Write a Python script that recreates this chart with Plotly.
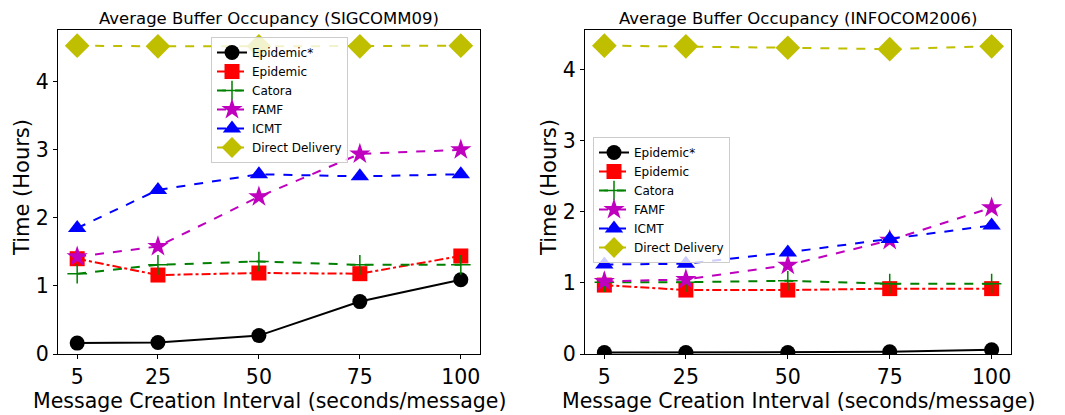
import plotly.graph_objects as go

x_vals = [5, 25, 50, 75, 100]
x_ticks = [5, 25, 50, 75, 100]
y_ticks = [0, 1, 2, 3, 4]

series_names = ["Epidemic*", "Epidemic", "Catora", "FAMF", "ICMT", "Direct Delivery"]

# SIGCOMM09
sig_epidemic_star = [0.16, 0.17, 0.27, 0.77, 1.09]
sig_epidemic = [1.40, 1.16, 1.19, 1.18, 1.44]
sig_catora = [1.18, 1.31, 1.36, 1.31, 1.31]
sig_famf = [1.43, 1.58, 2.31, 2.94, 3.00]
sig_icmt = [1.85, 2.41, 2.64, 2.61, 2.64]
sig_direct = [4.53, 4.52, 4.52, 4.52, 4.53]

# INFOCOM2006
inf_epidemic_star = [0.02, 0.02, 0.02, 0.03, 0.06]
inf_epidemic = [0.97, 0.90, 0.90, 0.92, 0.92]
inf_catora = [1.01, 1.01, 1.03, 0.99, 0.99]
inf_famf = [1.02, 1.05, 1.25, 1.60, 2.06]
inf_icmt = [1.26, 1.27, 1.43, 1.62, 1.81]
inf_direct = [4.34, 4.33, 4.31, 4.29, 4.33]

styles = [
    dict(color="#000000", dash="solid", symbol="circle", size=15, lw=2),
    dict(color="#ff0000", dash="dashdot", symbol="square", size=15, lw=2),
    dict(color="#008000", dash="dash", symbol="cross-thin", size=14, lw=2),
    dict(color="#bf00bf", dash="dash", symbol="star", size=16, lw=2),
    dict(color="#0000ff", dash="dash", symbol="triangle-up", size=16, lw=2),
    dict(color="#bfbf00", dash="dash", symbol="diamond", size=19, lw=2),
]

font_family = "DejaVu Sans"
W, H = 1065, 415
fig = go.Figure()

panels = [
    ([sig_epidemic_star, sig_epidemic, sig_catora, sig_famf, sig_icmt, sig_direct], "x", "y", "legend"),
    ([inf_epidemic_star, inf_epidemic, inf_catora, inf_famf, inf_icmt, inf_direct], "x2", "y2", "legend2"),
]

for data, xa, ya, lg in panels:
    for name, vals, st in zip(series_names, data, styles):
        mk = dict(symbol=st["symbol"], size=st["size"], color=st["color"])
        if st["symbol"] == "cross-thin":
            mk["line"] = dict(color=st["color"], width=1.5)
        else:
            mk["line"] = dict(width=0)
        fig.add_trace(go.Scatter(
            x=x_vals, y=vals, name=name, mode="lines+markers",
            line=dict(color=st["color"], dash=st["dash"], width=st["lw"]),
            marker=mk, xaxis=xa, yaxis=ya, legend=lg,
        ))

axis_common = dict(
    showgrid=False, zeroline=False, showline=True, linecolor="#000000", linewidth=1,
    mirror=True, ticks="outside", ticklen=4, tickcolor="#000000", automargin=False,
    tickfont=dict(size=20.5, family=font_family, color="#000000"),
)

left_dom = [58/W, 480/W]
right_dom = [585/W, 1011/W]
y_dom = [61/H, 385/H]

def ann(text, x, y, size, angle=0):
    return dict(text=text, x=x/W, y=1-y/H, xref="paper", yref="paper", showarrow=False,
                xanchor="center", yanchor="middle", textangle=angle,
                font=dict(size=size, family=font_family, color="#000000"))

legend_common = dict(xanchor="left", yanchor="top",
                     bgcolor="rgba(255,255,255,0.8)", bordercolor="#cccccc", borderwidth=1,
                     font=dict(size=12, family=font_family, color="#000000"),
                     itemwidth=30, tracegroupgap=0)

fig.update_layout(
    width=W, height=H,
    margin=dict(l=0, r=0, t=0, b=0),
    paper_bgcolor="white", plot_bgcolor="white",
    font=dict(family=font_family, color="#000000"),
    xaxis=dict(domain=left_dom, range=[0.25, 104.75], tickvals=x_ticks, anchor="y", **axis_common),
    yaxis=dict(domain=y_dom, range=[0, 4.76], tickvals=y_ticks, anchor="x", **axis_common),
    xaxis2=dict(domain=right_dom, range=[0.25, 104.75], tickvals=x_ticks, anchor="y2", **axis_common),
    yaxis2=dict(domain=y_dom, range=[0, 4.56], tickvals=y_ticks, anchor="x2", **axis_common),
    legend=dict(x=211/W, y=1-37/H, **legend_common),
    legend2=dict(x=593/W, y=1-137/H, **legend_common),
    annotations=[
        ann("Average Buffer Occupancy (SIGCOMM09)", 269, 18, 16.5),
        ann("Average Buffer Occupancy (INFOCOM2006)", 798, 18, 16.5),
        ann("Message Creation Interval (seconds/message)", 269, 401, 20.5),
        ann("Message Creation Interval (seconds/message)", 798, 401, 20.5),
        ann("Time (Hours)", 22, 188, 21, -90),
        ann("Time (Hours)", 549, 188, 21, -90),
    ],
)

fig.write_html("out.html")
